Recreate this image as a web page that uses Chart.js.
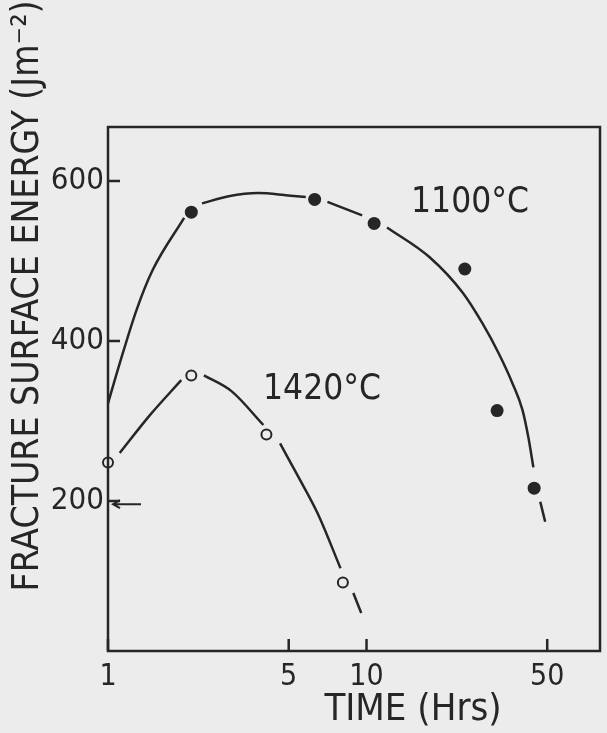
<!DOCTYPE html>
<html>
<head>
<meta charset="utf-8">
<script src="https://cdn.jsdelivr.net/npm/chart.js@4.4.1/dist/chart.umd.min.js"></script>
<style>
  body { margin: 0; background: #ececec; }
  canvas { display: block; }
</style>
</head>
<body>
<canvas id="myChart" width="607" height="733"></canvas>
<script>
// measured points
var time1100 = [2.1, 6.3, 10.7, 24, 32, 44.5];
var energy1100 = [561, 577, 547, 490, 313, 216];
var time1420 = [1.0, 2.1, 4.1, 8.1];
var energy1420 = [248, 357, 283, 98];

// hand drawn fitted curves (null = break in the line)
var fitTime1100 = [1.0, 1.11, 1.29, 1.49, 1.97, null, 2.31, 2.93, 3.81, 4.97, 5.82, null, 7.06, 9.62, null, 12.0, 17.5, 23.6, 28.2, 32.4, 36.7, 40.1, 42.3, 44.2, null, 47.0, 49.1];
var fitEnergy1100 = [322, 372, 439, 489, 554, null, 572, 581, 585, 582, 580, null, 574, 557, null, 542, 505, 460, 421, 385, 347, 314, 279, 242, null, 199, 174];
var fitTime1420 = [1.11, 1.45, 1.92, null, 2.35, 3.01, 3.99, null, 4.63, 5.43, 6.48, 7.93, null, 8.89, 9.54];
var fitEnergy1420 = [260, 307, 351, null, 357, 337, 295, null, 272, 231, 184, 116, null, 85, 60];

var xTicks = [1, 5, 10, 50];
var yTicks = [200, 400, 600];

var ink = '#262626';
var paper = '#ececec';
var txtFont = "'DejaVu Sans Condensed', 'DejaVu Sans', sans-serif";

function pts(xs, ys) {
  return xs.map(function (x, i) {
    return x === null ? { x: null, y: null } : { x: x, y: ys[i] };
  });
}

var paperPlugin = {
  id: 'paper',
  beforeDraw: function (chart) {
    var c = chart.ctx;
    c.save();
    c.fillStyle = paper;
    c.fillRect(0, 0, chart.width, chart.height);
    c.restore();
  },
  afterDraw: function (chart) {
    var c = chart.ctx, a = chart.chartArea;
    var xs = chart.scales.x, ys = chart.scales.y;
    c.save();
    c.strokeStyle = ink;
    c.lineWidth = 2.5;
    c.strokeRect(a.left, a.top, a.right - a.left, a.bottom - a.top);
    // inward ticks
    c.beginPath();
    yTicks.forEach(function (v) {
      var py = ys.getPixelForValue(v);
      c.moveTo(a.left, py); c.lineTo(a.left + 12, py);
    });
    xTicks.forEach(function (v) {
      var px = xs.getPixelForValue(v);
      c.moveTo(px, a.bottom); c.lineTo(px, a.bottom - 12);
    });
    c.stroke();
    // arrow just below 200
    var ay = ys.getPixelForValue(196);
    c.lineWidth = 2;
    c.beginPath();
    c.moveTo(a.left + 5, ay); c.lineTo(a.left + 33, ay);
    c.moveTo(a.left + 12, ay - 4); c.lineTo(a.left + 5, ay); c.lineTo(a.left + 12, ay + 4);
    c.stroke();

    c.fillStyle = ink;
    c.textAlign = 'center';
    c.textBaseline = 'middle';
    c.font = "35px " + txtFont;
    c.fillText('1100\u00B0C', 470, 203);
    c.fillText('1420\u00B0C', 322, 390);

    c.font = "38px " + txtFont;
    c.fillText('TIME (Hrs)', 413, 710);

    c.save();
    c.translate(28, 296);
    c.rotate(-Math.PI / 2);
    c.font = "37px " + txtFont;
    c.fillText('FRACTURE SURFACE ENERGY (Jm\u207B\u00B2)', 0, 0);
    c.restore();
    c.restore();
  }
};

window.onload = function () {
  var ctx = document.getElementById('myChart');
  var myChart = new Chart(ctx, {
    type: 'scatter',
    data: {
      datasets: [{
        data: pts(fitTime1100, fitEnergy1100),
        showLine: true,
        borderColor: ink,
        borderWidth: 2.5,
        pointRadius: 0,
        cubicInterpolationMode: 'monotone',
        spanGaps: false
      }, {
        data: pts(fitTime1420, fitEnergy1420),
        showLine: true,
        borderColor: ink,
        borderWidth: 2.5,
        pointRadius: 0,
        cubicInterpolationMode: 'monotone',
        spanGaps: false
      }, {
        data: pts(time1100, energy1100),
        pointRadius: 6.5,
        backgroundColor: ink,
        borderColor: ink,
        borderWidth: 0
      }, {
        data: pts(time1420, energy1420),
        pointRadius: 5,
        backgroundColor: paper,
        borderColor: ink,
        borderWidth: 2
      }]
    },
    options: {
      responsive: false,
      animation: false,
      clip: false,
      layout: { padding: { top: 127, right: 2, left: 0, bottom: 0 } },
      plugins: {
        legend: { display: false },
        tooltip: { enabled: false }
      },
      scales: {
        x: {
          type: 'logarithmic',
          min: 1,
          max: 80,
          grid: { display: false, drawTicks: false },
          border: { display: false },
          afterBuildTicks: function (s) {
            s.ticks = xTicks.map(function (v) { return { value: v }; });
          },
          afterFit: function (s) { s.height = 82; },
          ticks: {
            autoSkip: false,
            maxRotation: 0,
            padding: 8,
            color: ink,
            font: { family: txtFont, size: 30 },
            callback: function (v) { return String(v); }
          }
        },
        y: {
          min: 12.5,
          max: 667.5,
          grid: { display: false, drawTicks: false },
          border: { display: false },
          afterBuildTicks: function (s) {
            s.ticks = yTicks.map(function (v) { return { value: v }; });
          },
          afterFit: function (s) { s.width = 108; },
          ticks: {
            padding: 4,
            color: ink,
            font: { family: txtFont, size: 31 }
          }
        }
      }
    },
    plugins: [paperPlugin]
  });
};
</script>
</body>
</html>
